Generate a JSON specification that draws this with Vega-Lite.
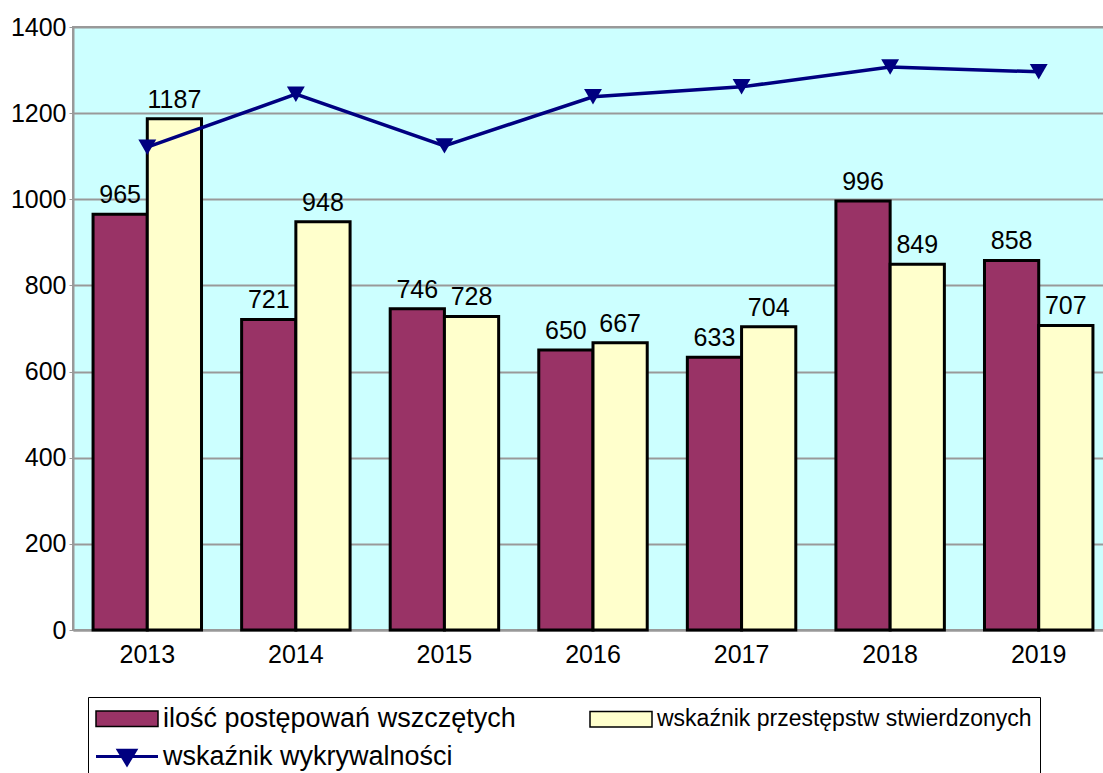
{
  "$schema": "https://vega.github.io/schema/vega-lite/v6.json",
  "autosize": "none",
  "padding": {"left": 73, "top": 27, "right": 0, "bottom": 143},
  "width": 1040,
  "height": 603,
  "background": "white",
  "config": {
    "font": "Liberation Sans",
    "view": {"fill": "#ccffff", "stroke": "#999999", "strokeWidth": 2}
  },
  "datasets": {
    "bars": [
      {"rok": "2013", "seria": "ilość postępowań wszczętych", "wartosc": 965},
      {"rok": "2013", "seria": "wskaźnik przestępstw stwierdzonych", "wartosc": 1187},
      {"rok": "2014", "seria": "ilość postępowań wszczętych", "wartosc": 721},
      {"rok": "2014", "seria": "wskaźnik przestępstw stwierdzonych", "wartosc": 948},
      {"rok": "2015", "seria": "ilość postępowań wszczętych", "wartosc": 746},
      {"rok": "2015", "seria": "wskaźnik przestępstw stwierdzonych", "wartosc": 728},
      {"rok": "2016", "seria": "ilość postępowań wszczętych", "wartosc": 650},
      {"rok": "2016", "seria": "wskaźnik przestępstw stwierdzonych", "wartosc": 667},
      {"rok": "2017", "seria": "ilość postępowań wszczętych", "wartosc": 633},
      {"rok": "2017", "seria": "wskaźnik przestępstw stwierdzonych", "wartosc": 704},
      {"rok": "2018", "seria": "ilość postępowań wszczętych", "wartosc": 996},
      {"rok": "2018", "seria": "wskaźnik przestępstw stwierdzonych", "wartosc": 849},
      {"rok": "2019", "seria": "ilość postępowań wszczętych", "wartosc": 858},
      {"rok": "2019", "seria": "wskaźnik przestępstw stwierdzonych", "wartosc": 707}
    ],
    "linia": [
      {"rok": "2013", "seria": "wskaźnik wykrywalności", "wartosc": 1121},
      {"rok": "2014", "seria": "wskaźnik wykrywalności", "wartosc": 1244},
      {"rok": "2015", "seria": "wskaźnik wykrywalności", "wartosc": 1124},
      {"rok": "2016", "seria": "wskaźnik wykrywalności", "wartosc": 1238},
      {"rok": "2017", "seria": "wskaźnik wykrywalności", "wartosc": 1261},
      {"rok": "2018", "seria": "wskaźnik wykrywalności", "wartosc": 1307},
      {"rok": "2019", "seria": "wskaźnik wykrywalności", "wartosc": 1296}
    ]
  },
  "encoding": {
    "x": {"field": "rok", "type": "nominal", "scale": {"paddingInner": 0.27, "paddingOuter": 0.135},
      "axis": {"title": null, "labelAngle": 0, "tickSize": 0, "labelPadding": 12, "grid": false, "labelFont": "Liberation Sans", "labelFontSize": 25, "labelColor": "black", "domainColor": "#999999", "domainWidth": 2}},
    "y": {"field": "wartosc", "type": "quantitative", "scale": {"domain": [0, 1400], "nice": false},
      "axis": {"title": null, "format": "d", "values": [0, 200, 400, 600, 800, 1000, 1200, 1400], "tickSize": 4, "tickColor": "#999999", "labelPadding": 3, "grid": true, "gridColor": "#999999", "gridWidth": 2, "gridOpacity": 1, "labelFont": "Liberation Sans", "labelFontSize": 25, "labelColor": "black", "domainColor": "#999999", "domainWidth": 2}}
  },
  "layer": [
    {
      "data": {"name": "bars"},
      "mark": {"type": "bar", "stroke": "black", "strokeWidth": 3},
      "encoding": {
        "xOffset": {"field": "seria", "type": "nominal", "scale": {"domain": ["ilość postępowań wszczętych", "wskaźnik przestępstw stwierdzonych"], "paddingInner": 0}},
        "color": {
          "field": "seria", "type": "nominal",
          "scale": {"domain": ["ilość postępowań wszczętych", "wskaźnik przestępstw stwierdzonych", "wskaźnik wykrywalności"], "range": ["#993366", "#ffffcc", "#000080"]},
          "legend": {
            "orient": "none", "legendX": 15, "legendY": 670, "title": null, "direction": "horizontal",
            "columns": 2, "columnPadding": 71, "rowPadding": 10,
            "padding": 8, "strokeColor": "black", "fillColor": "white",
            "labelFont": "Liberation Sans", "labelFontSize": 27, "labelColor": "black", "labelOffset": 5, "labelLimit": 600,
            "symbolSize": 3844, "symbolType": "M-1,-0.25H1V0.25H-1Z", "symbolStrokeWidth": 2, "symbolStrokeColor": "black",
            "encode": {
              "symbols": {"update": {
                "x": {"value": 31},
                "shape": {"signal": "datum.value === 'wskaźnik wykrywalności' ? 'M-1,0H1M-0.28,-0.2L0.28,-0.2L0,0.26Z' : 'M-1,-0.25H1V0.25H-1Z'"},
                "fill": {"signal": "datum.value === 'ilość postępowań wszczętych' ? '#993366' : datum.value === 'wskaźnik przestępstw stwierdzonych' ? '#ffffcc' : '#000080'"},
                "stroke": {"signal": "datum.value === 'wskaźnik wykrywalności' ? '#000080' : 'black'"},
                "strokeWidth": {"signal": "datum.value === 'wskaźnik wykrywalności' ? 3 : 1.5"},
                "opacity": {"value": 1}
              }},
              "labels": {"update": {"x": {"value": 67}, "fontSize": {"signal": "datum.value === 'wskaźnik przestępstw stwierdzonych' ? 23 : 27"}}}
            }
          }
        }
      }
    },
    {
      "data": {"name": "bars"},
      "mark": {"type": "text", "baseline": "bottom", "dy": -6, "fontSize": 25, "font": "Liberation Sans", "color": "black"},
      "encoding": {
        "xOffset": {"field": "seria", "type": "nominal", "scale": {"domain": ["ilość postępowań wszczętych", "wskaźnik przestępstw stwierdzonych"], "paddingInner": 0}},
        "text": {"field": "wartosc", "type": "quantitative"}
      }
    },
    {
      "data": {"name": "linia"},
      "mark": {"type": "line", "strokeWidth": 3.5, "color": "#000080"},
      "encoding": {}
    },
    {
      "data": {"name": "linia"},
      "mark": {"type": "point", "shape": "triangle-down", "filled": true, "size": 320, "color": "#000080", "opacity": 1},
      "encoding": {}
    }
  ]
}
